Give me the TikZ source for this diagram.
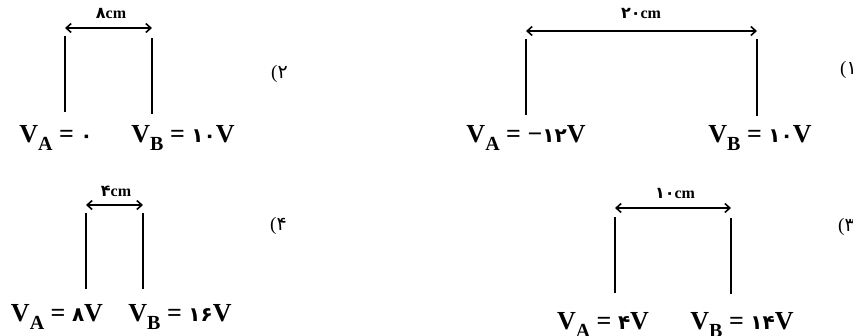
\documentclass[tikz,border=0pt]{standalone}
\usepackage{fontspec}
\setmainfont{Liberation Serif}
\newfontfamily\fafont{DejaVu Sans}
\usetikzlibrary{arrows.meta}
\newcommand{\VV}[1]{V\raisebox{-0.34em}{\fontsize{20}{20}\selectfont #1}}
\newcommand{\fd}[1]{{\fafont\bfseries #1}}
\newcommand{\fr}[1]{{\fafont\bfseries\fontsize{20}{20}\selectfont #1}}
\begin{document}
\begin{tikzpicture}[x=1pt,y=-1pt,
  pot/.style={font=\fontsize{26}{28}\selectfont\bfseries, inner sep=0pt, anchor=base},
  dist/.style={font=\fontsize{16}{18}\selectfont\bfseries, inner sep=0pt, anchor=base},
  num/.style={font=\fontsize{19}{20}\selectfont, inner sep=0pt, anchor=base west},
  plate/.style={line width=1.8pt},
  gap/.style={line width=1.6pt, {Straight Barb[length=5pt,width=9pt]}-{Straight Barb[length=5pt,width=9pt]}}]
\useasboundingbox (0,0) rectangle (853,335);
% ---- diagram 2 (top left)
\coordinate (p2at) at (65,36);  \coordinate (p2ab) at (65,112);
\coordinate (p2bt) at (152,38); \coordinate (p2bb) at (152,114);
\coordinate (g2a) at (65,28);   \coordinate (g2b) at (152,28);
\draw[plate] (p2at) -- (p2ab);
\draw[plate] (p2bt) -- (p2bb);
\draw[gap] (g2a) -- (g2b);
\node[dist] (d2) at (111,18) {\fd{۸}cm};
\node[pot] (va2) at (56,142) {\VV{A} = \fr{۰}};
\node[pot] (vb2) at (183,142) {\VV{B} = \fr{۱۰}V};
\node[num] (n2) at (271,78) {(\fafont ۲};
% ---- diagram 1 (top right)
\coordinate (p1at) at (526,39); \coordinate (p1ab) at (526,115);
\coordinate (p1bt) at (757,39); \coordinate (p1bb) at (757,116);
\coordinate (g1a) at (526,31);  \coordinate (g1b) at (757,31);
\draw[plate] (p1at) -- (p1ab);
\draw[plate] (p1bt) -- (p1bb);
\draw[gap] (g1a) -- (g1b);
\node[dist] (d1) at (641,18) {\fd{۲۰}cm};
\node[pot] (va1) at (526,142) {\VV{A} = −\fr{۱۲}V};
\node[pot] (vb1) at (760,142) {\VV{B} = \fr{۱۰}V};
\node[num] (n1) at (840,74) {(\fafont ۱};
% ---- diagram 4 (bottom left)
\coordinate (p4at) at (86,213); \coordinate (p4ab) at (86,289);
\coordinate (p4bt) at (143,213); \coordinate (p4bb) at (143,289);
\coordinate (g4a) at (86,205);  \coordinate (g4b) at (143,205);
\draw[plate] (p4at) -- (p4ab);
\draw[plate] (p4bt) -- (p4bb);
\draw[gap] (g4a) -- (g4b);
\node[dist] (d4) at (116,196) {\fd{۴}cm};
\node[pot] (va4) at (57,321) {\VV{A} = \fr{۸}V};
\node[pot] (vb4) at (180,321) {\VV{B} = \fr{۱۶}V};
\node[num] (n4) at (270,230) {(\fafont ۴};
% ---- diagram 3 (bottom right)
\coordinate (p3at) at (615,217); \coordinate (p3ab) at (615,293);
\coordinate (p3bt) at (731,218); \coordinate (p3bb) at (731,294);
\coordinate (g3a) at (615,208);  \coordinate (g3b) at (731,208);
\draw[plate] (p3at) -- (p3ab);
\draw[plate] (p3bt) -- (p3bb);
\draw[gap] (g3a) -- (g3b);
\node[dist] (d3) at (675,198) {\fd{۱۰}cm};
\node[pot] (va3) at (603,329) {\VV{A} = \fr{۴}V};
\node[pot] (vb3) at (742,329) {\VV{B} = \fr{۱۴}V};
\node[num] (n3) at (838,231) {(\fafont ۳};
\end{tikzpicture}
\end{document}
